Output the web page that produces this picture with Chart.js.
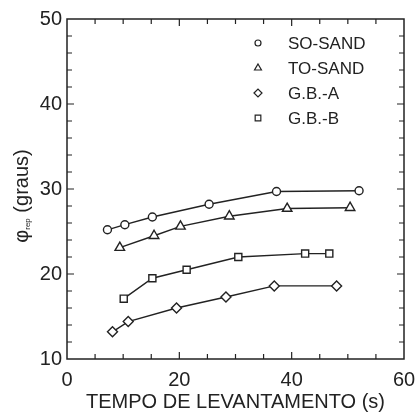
<!DOCTYPE html>
<html>
<head>
<meta charset="utf-8">
<script src="https://cdn.jsdelivr.net/npm/chart.js@4/dist/chart.umd.min.js"></script>
<style>
  html, body { margin: 0; padding: 0; background: #fff; }
  #chart { display: block; }
</style>
</head>
<body>
<canvas id="chart" width="416" height="417"></canvas>
<script>
/* global Chart */
// values
const soSandX = [7.2, 10.3, 15.2, 25.3, 37.3, 52.0];
const soSandY = [25.2, 25.8, 26.7, 28.2, 29.7, 29.8];
const toSandX = [9.4, 15.5, 20.2, 28.9, 39.2, 50.4];
const toSandY = [23.1, 24.5, 25.6, 26.8, 27.7, 27.8];
const gbAX = [8.1, 10.9, 19.5, 28.3, 36.9, 48.0];
const gbAY = [13.2, 14.4, 16.0, 17.3, 18.6, 18.6];
const gbBX = [10.1, 15.2, 21.3, 30.5, 42.4, 46.7];
const gbBY = [17.1, 19.5, 20.5, 22.0, 22.4, 22.4];

const seriesLabels = ['SO-SAND', 'TO-SAND', 'G.B.-A', 'G.B.-B'];
const xTitle = 'TEMPO DE LEVANTAMENTO (s)';

const INK = '#222';
const FONT = "'Liberation Sans', Arial, sans-serif";

function pts(xs, ys) {
  return xs.map((x, i) => ({ x, y: ys[i] }));
}

function series(label, xs, ys, style, radius) {
  return {
    label,
    data: pts(xs, ys),
    borderColor: INK,
    borderWidth: 1.4,
    backgroundColor: '#fff',
    pointStyle: style,
    pointRadius: radius,
    pointBorderWidth: 1.4,
    pointBorderColor: INK,
    pointBackgroundColor: '#fff',
    tension: 0,
  };
}

const datasets = [
  series(seriesLabels[0], soSandX, soSandY, 'circle', 4),
  series(seriesLabels[1], toSandX, toSandY, 'triangle', 5.5),
  series(seriesLabels[2], gbAX, gbAY, 'rectRot', 5),
  series(seriesLabels[3], gbBX, gbBY, 'rect', 5),
];

// frame, inward ticks, legend and y title
const decor = {
  id: 'decor',
  afterDraw(chart) {
    const { ctx, chartArea: a, scales: { x, y } } = chart;
    ctx.save();
    ctx.strokeStyle = INK;
    ctx.lineWidth = 1.5;
    ctx.strokeRect(a.left, a.top, a.right - a.left, a.bottom - a.top);

    ctx.lineWidth = 1.2;
    ctx.beginPath();
    for (let v = 5; v < 60; v += 5) {
      const px = x.getPixelForValue(v);
      const len = v % 20 === 0 ? 7 : 5;
      ctx.moveTo(px, a.bottom); ctx.lineTo(px, a.bottom - len);
      ctx.moveTo(px, a.top); ctx.lineTo(px, a.top + len);
    }
    for (let v = 12; v < 50; v += 2) {
      const py = y.getPixelForValue(v);
      const len = v % 10 === 0 ? 7 : 5;
      ctx.moveTo(a.left, py); ctx.lineTo(a.left + len, py);
      ctx.moveTo(a.right, py); ctx.lineTo(a.right - len, py);
    }
    ctx.stroke();

    // legend
    ctx.font = '17px ' + FONT;
    ctx.textBaseline = 'middle';
    ctx.textAlign = 'left';
    chart.data.datasets.forEach((ds, i) => {
      const ly = a.top + 24 + i * 25;
      ctx.fillStyle = '#fff';
      ctx.strokeStyle = INK;
      ctx.lineWidth = 1.2;
      Chart.helpers.drawPoint(ctx, {
        pointStyle: ds.pointStyle,
        rotation: 0,
        borderWidth: 1.2,
        radius: ds.pointStyle === 'circle' ? 3 : 4,
      }, 258, ly);
      ctx.fillStyle = INK;
      ctx.fillText(ds.label, 288, ly + 1);
    });

    // y title: phi_rep (graus)
    ctx.translate(22, 196);
    ctx.rotate(-Math.PI / 2);
    ctx.textAlign = 'left';
    ctx.font = '20px ' + FONT;
    const phi = 'φ';
    const sub = 'rep';
    const rest = ' (graus)';
    const wPhi = ctx.measureText(phi).width;
    ctx.font = '8px ' + FONT;
    const wSub = ctx.measureText(sub).width;
    ctx.font = '20px ' + FONT;
    const wRest = ctx.measureText(rest).width;
    let sx = -(wPhi + wSub + wRest) / 2;
    ctx.fillText(phi, sx, 0);
    sx += wPhi;
    ctx.font = '8px ' + FONT;
    ctx.fillText(sub, sx, 6);
    sx += wSub;
    ctx.font = '20px ' + FONT;
    ctx.fillText(rest, sx, 0);
    ctx.restore();
  },
};

new Chart(document.getElementById('chart'), {
  type: 'line',
  data: { datasets },
  options: {
    responsive: false,
    animation: false,
    layout: { padding: { top: 19, right: 1, left: 0, bottom: 0 } },
    plugins: { legend: { display: false }, tooltip: { enabled: false } },
    scales: {
      x: {
        type: 'linear',
        min: 0,
        max: 60,
        afterFit: (s) => { s.height = 58; s.paddingRight = 12; },
        grid: { display: false, drawTicks: false },
        border: { display: false },
        ticks: { stepSize: 20, padding: 9, color: INK, font: { family: FONT, size: 20 } },
        title: {
          display: true,
          text: xTitle,
          color: INK,
          font: { family: FONT, size: 20 },
          padding: { top: 0, bottom: 3 },
        },
      },
      y: {
        type: 'linear',
        min: 10,
        max: 50,
        afterFit: (s) => { s.width = 67; },
        grid: { display: false, drawTicks: false },
        border: { display: false },
        ticks: { stepSize: 10, padding: 5, color: INK, font: { family: FONT, size: 20 } },
      },
    },
  },
  plugins: [decor],
});
</script>
</body>
</html>
